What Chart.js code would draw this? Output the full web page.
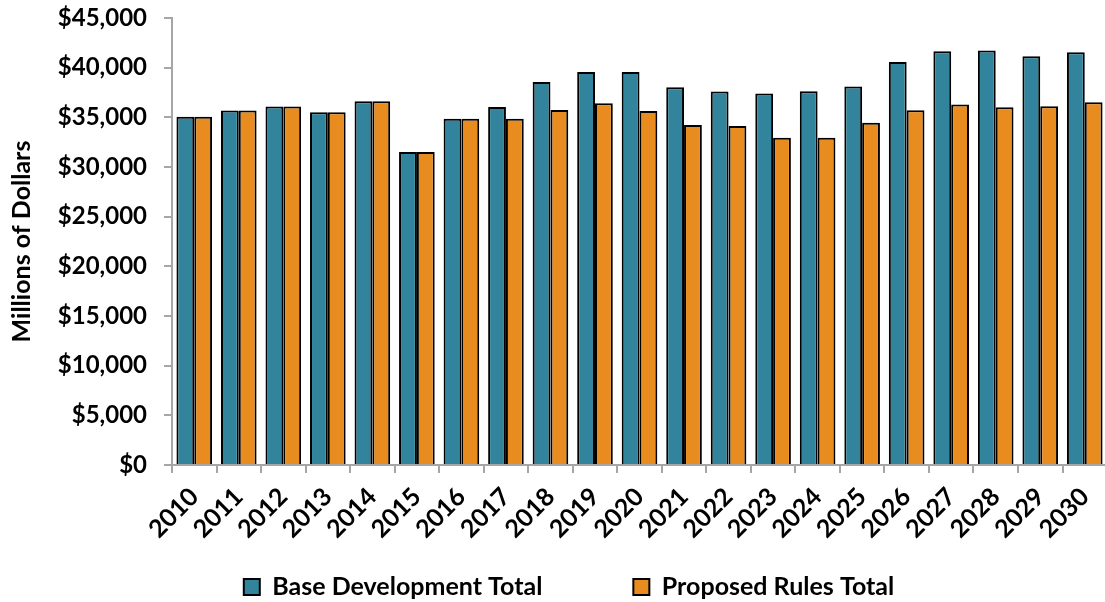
<!DOCTYPE html>
<html>
<head>
<meta charset="utf-8">
<script src="https://cdn.jsdelivr.net/npm/chart.js@4"></script>
<style>
  html, body { margin: 0; padding: 0; background: #fff; overflow: hidden; }
  #wrap { width: 1115px; height: 602px; position: relative; }
</style>
</head>
<body>
<div id="wrap"><canvas id="c"></canvas></div>
<script>
const years = ['2010','2011','2012','2013','2014','2015','2016','2017','2018','2019','2020',
               '2021','2022','2023','2024','2025','2026','2027','2028','2029','2030'];
const baseDevelopment = [35050, 35680, 36080, 35500, 36620, 31520, 34850, 36050, 38550, 39560, 39560,
                         38040, 37600, 37400, 37620, 38110, 40570, 41650, 41720, 41150, 41550];
const proposedRules   = [35050, 35680, 36080, 35500, 36620, 31520, 34850, 34860, 35740, 36420, 35640,
                         34220, 34120, 32940, 32940, 34460, 35710, 36280, 36010, 36110, 36520];
const yTicks = [0, 5000, 10000, 15000, 20000, 25000, 30000, 35000, 40000, 45000];

const FONT = 'Lato, "Open Sans", sans-serif';
const axisGrey = '#a6a6a6';
const LEGEND_GAP = 91;
const LEGEND_FONT = 25;
const LEGEND_CENTER_Y = 587;

// The wide gap between the two legend entries also inflates the legend's
// vertical padding, so the legend box is moved back up to its row here.
const legendPlace = {
  id: 'legendPlace',
  afterLayout(chart) {
    const lg = chart.legend;
    if (!lg) return;
    const dy = LEGEND_CENTER_Y - (lg.top + LEGEND_GAP + LEGEND_FONT / 2);
    lg.top += dy; lg.bottom += dy;
    lg.left += 12; lg.right += 12;
  }
};

new Chart(document.getElementById('c'), {
  type: 'bar',
  data: {
    labels: years,
    datasets: [
      { label: 'Base Development Total', data: baseDevelopment,
        backgroundColor: '#31849b', borderColor: '#000', borderWidth: 2 },
      { label: 'Proposed Rules Total', data: proposedRules,
        backgroundColor: '#e98c1f', borderColor: '#000', borderWidth: 2 }
    ]
  },
  plugins: [legendPlace],
  options: {
    responsive: true,
    maintainAspectRatio: false,
    animation: false,
    layout: { padding: { top: 18, right: 1, left: 0, bottom: -69 } },
    datasets: { bar: { categoryPercentage: 0.8, barPercentage: 1.0 } },
    plugins: {
      tooltip: { enabled: false },
      legend: {
        position: 'bottom',
        labels: {
          color: '#000',
          font: { family: FONT, size: LEGEND_FONT, weight: 'bold' },
          boxWidth: 16, boxHeight: 16,
          padding: LEGEND_GAP
        }
      }
    },
    scales: {
      x: {
        afterFit: (s) => { s.height = 80; },
        grid: { display: true, drawOnChartArea: false, offset: true, color: axisGrey, tickLength: 8, lineWidth: 2 },
        border: { color: axisGrey, width: 2 },
        ticks: {
          color: '#000', minRotation: 45, maxRotation: 45, padding: 9, autoSkip: false,
          font: { family: FONT, size: 25, weight: 'bold' }
        }
      },
      y: {
        min: 0, max: 45000,
        afterFit: (s) => { s.width = 172; s.paddingTop = 0; s.paddingBottom = 0; },
        afterBuildTicks: (s) => { s.ticks = yTicks.map(v => ({ value: v })); },
        grid: { display: true, drawOnChartArea: false, color: axisGrey, tickLength: 8, lineWidth: 2 },
        border: { color: axisGrey, width: 2 },
        ticks: {
          color: '#000', padding: 17,
          font: { family: FONT, size: 24, weight: 'bold' },
          callback: (v) => '$' + Number(v).toLocaleString('en-US')
        },
        title: {
          display: true, text: 'Millions of Dollars', color: '#000',
          font: { family: FONT, size: 25, weight: 'bold' }, padding: { top: 7, bottom: 0 }
        }
      }
    }
  }
});
</script>
</body>
</html>
